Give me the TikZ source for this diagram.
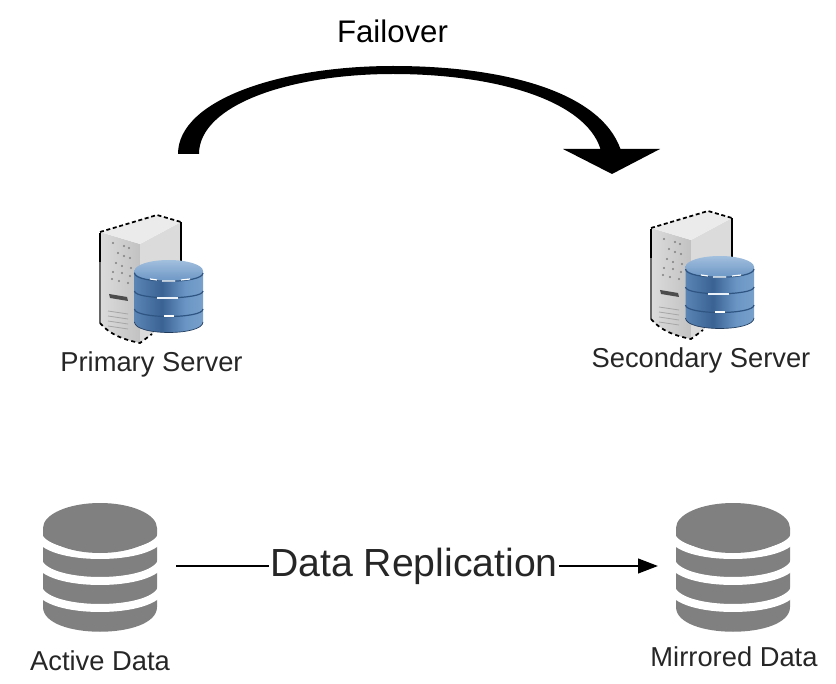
\documentclass[tikz,border=0pt]{standalone}
\usepackage{fontspec}
\setmainfont{Liberation Sans}
\usetikzlibrary{arrows.meta}
\definecolor{dbgray}{HTML}{808080}
\definecolor{dbline}{HTML}{2F5583}
\definecolor{cyla}{HTML}{7AA3CF}
\definecolor{cylb}{HTML}{6A95C4}
\definecolor{cylc}{HTML}{3A6394}
\definecolor{cyld}{HTML}{84A9D2}
\definecolor{cyle}{HTML}{537CAB}
\pgfdeclarehorizontalshading{cylbody}{100bp}{
  color(0bp)=(cyla); color(15bp)=(cylb); color(45bp)=(cylc); color(62bp)=(cylb);
  color(85bp)=(cyld); color(100bp)=(cyle)}
\tikzset{
  x=0.75pt,y=-0.75pt,
  iconbox/.style={inner sep=0pt,outer sep=0pt,minimum width=#1},
  lbl/.style={inner sep=0pt,font=\fontsize{20.5}{24}\selectfont,text=black!85},
  gap/.style={draw=white,line width=6pt},
  pics/graydb/.style={code={
    \fill[dbgray] (-57,0) -- (-57,79) .. controls (-57,112) and (57,112) .. (57,79) -- (57,0) -- cycle;
    \foreach \d in {8,34,61}{
      \draw[gap] (-62,\d-2) .. controls (-57,\d+26) and (57,\d+26) .. (62,\d-2);
    }
    \fill[dbgray] (0,0) ellipse [x radius=57,y radius=25];
  }},
  pics/serverdb/.style={code={
    % left face
    \shade[left color=black!14,right color=black!24] (100,232) -- (140,244) -- (140,343) .. controls (125,340) and (110,335) .. (100,323) -- cycle;
    % right face
    \fill[black!14] (140,244) -- (181,222) -- (181,310) -- (152,334) -- (140,343) -- cycle;
    % top face
    \fill[black!8] (100,232) -- (157,215) -- (181,222) -- (140,244) -- cycle;
    \draw[black,line width=1.3pt,dash pattern=on 3pt off 2pt] (100,232) -- (157,215) -- (181,222);
    \draw[black,line width=1.2pt] (181,222) -- (181,262);
    \draw[black,line width=1.3pt] (100,233) -- (100,262);
    \draw[black!60,line width=1pt] (100,262) -- (100,323);
    \draw[black,line width=1.3pt,dash pattern=on 3pt off 2.5pt] (100,323) .. controls (110,335) and (125,340) .. (140,343) -- (152,334);
    \foreach \p/\q in {113/243,124/246,129/248,118/253,124/256,130/258,116/263,122/266,131/268,113/272,122/273,130/276,112/279,119/281,128/283}{
      \fill[black!50] (\p,\q) circle[radius=1.2];
    }
    \fill[black!70] (109,294) -- (127,297) -- (128,301) -- (110,298) -- cycle;
    \foreach \q in {311,316,321,326}{
      \draw[black!35,line width=.6pt] (108,\q) -- (128,\q+3);
    }
    % cylinder
    \shade[shading=cylbody] (134.5,271) -- (134.5,322) .. controls (134.5,336) and (203,336) .. (203,322) -- (203,271) -- cycle;
    \shade[top color=cyla!70!white,bottom color=cylb] (168.75,271) ellipse [x radius=34.25,y radius=11];
    \draw[dbline,line width=.9pt] (134.5,273) .. controls (134.5,284) and (203,284) .. (203,273);
    \draw[dbline,line width=.9pt] (134.5,291) .. controls (134.5,300) and (203,300) .. (203,291);
    \draw[dbline,line width=.9pt] (134.5,309) .. controls (134.5,319) and (203,319) .. (203,309);
    \draw[dbline!70!black,line width=.5pt] (134.5,322) .. controls (134.5,336) and (203,336) .. (203,322);
    \draw[white,line width=.9pt] (150,279) -- (157,280) (162,281) -- (175,281) (181,280) -- (190,279);
    \draw[white!85!cyla,line width=1pt] (157,298) -- (178,298);
    \draw[white,line width=1pt] (164,316) -- (174,316);
  }}
}
\begin{document}
\begin{tikzpicture}
\useasboundingbox (0,0) rectangle (836,684);
% server icons
\pic at (0,0) {serverdb};
\pic at (551,-4) {serverdb};
\node[iconbox=77pt,minimum height=95pt] (primary) at (151.5,279.5) {};
\node[iconbox=77pt,minimum height=95pt] (secondary) at (702.5,275.5) {};
% database icons
\pic at (100,528) {graydb};
\pic at (733,528) {graydb};
\node[iconbox=114pt,minimum height=97pt] (active) at (100,566) {};
\node[iconbox=112.5pt,minimum height=97pt] (mirrored) at (733,566) {};
% texts
\node[lbl] (ptext) at (151.5,364) {Primary Server};
\node[lbl] (stext) at (701,360) {Secondary Server};
\node[lbl] (atext) at (100,661) {Active Data};
\node[lbl] (mtext) at (734,657) {Mirrored Data};
\node[inner sep=0pt,font=\fontsize{23.4}{28}\selectfont] (failover) at (392.5,31) {Failover};
\node[inner sep=1pt,font=\fontsize{29.4}{34}\selectfont,text=black!85,text height=22pt,text depth=7pt] (repl) at (414,566) {Data Replication};
% replication connector
\draw[line width=1.6pt] (active.east) -- (repl.west);
\draw[line width=1.6pt,-{Stealth[length=15pt,width=11pt,inset=0pt]}] (repl.east) -- (mirrored.west);
% failover arrow
\coordinate (fa) at (178,154);
\coordinate (fb) at (612,174);
\fill[black] (fa) .. controls (178,100) and (280,66) .. (393,66)
  .. controls (505,66) and (600,92) .. (620.5,149) -- (660,149) -- (fb) -- (563,149) -- (600.5,149)
  .. controls (585,100) and (495,74) .. (393,74)
  .. controls (290,74) and (199,105) .. (199,154) -- cycle;
\end{tikzpicture}
\end{document}
